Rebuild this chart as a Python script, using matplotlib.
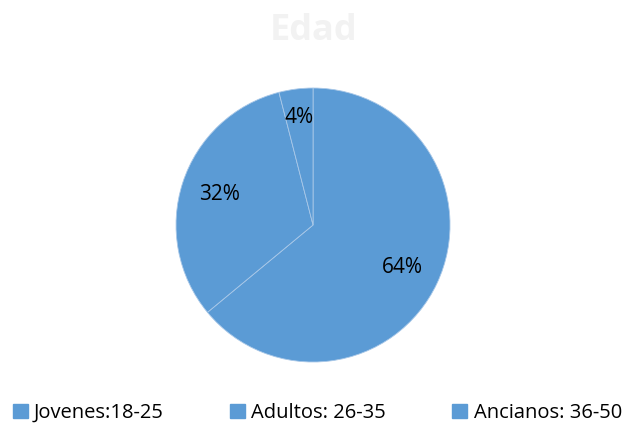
import matplotlib
matplotlib.use("Agg")
import matplotlib.pyplot as plt
import matplotlib.patches as mpatches

plt.rcParams["font.family"] = ["Open Sans", "DejaVu Sans"]

# Age groups
labels = ["Jovenes:18-25", "Adultos: 26-35", "Ancianos: 36-50"]
shares = [64, 32, 4]
BLUE = "#5B9BD5"

fig = plt.figure(figsize=(6.28, 4.25), dpi=100)
ax = fig.add_axes([0.2803, 0.1482, 0.4363, 0.6447])

wedges, texts, autotexts = ax.pie(
    shares, colors=[BLUE] * 3, startangle=90, counterclock=False,
    autopct="%1.0f%%", pctdistance=0.72,
    wedgeprops={"edgecolor": "#A9C8E8", "linewidth": 0.6},
    textprops={"fontsize": 15, "color": "black"})
# small slice label sits further out
x, y = autotexts[2].get_position()
autotexts[2].set_position((x * 1.12, y * 1.1))
ax.set_xlim(-1, 1)
ax.set_ylim(-1, 1)
ax.set_aspect("equal")

fig.text(0.5, 0.928, "Edad", ha="center", va="center", fontsize=26,
         fontweight="bold", color="#F2F2F2")

handles = [mpatches.Patch(color=BLUE, label=l) for l in labels]
fig.legend(handles=handles, loc="center", bbox_to_anchor=(0.505, 0.028),
           ncol=3, frameon=False, fontsize=14.5, handlelength=0.75,
           handleheight=0.75, handletextpad=0.3, columnspacing=3.3)

fig.savefig("out.png", dpi=100)
